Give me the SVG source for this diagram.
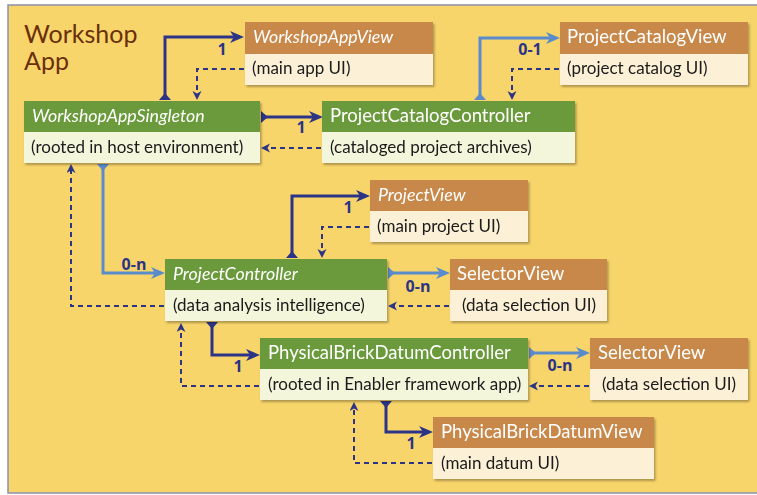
<svg xmlns="http://www.w3.org/2000/svg" width="757" height="495" viewBox="0 0 757 495">
<style>
.title{font-family:Lato,"Gill Sans","Liberation Sans",sans-serif;font-size:25px;fill:#6A2F0C}
.hd{font-family:Lato,"Liberation Sans",sans-serif;font-size:18.5px;fill:#ffffff}
.it{font-style:italic;font-size:17.8px}
.bd{font-family:Lato,"Liberation Sans",sans-serif;font-size:17px;fill:#1a1a1a}
.gh{fill:#6A9A3A}
.gb{fill:#F3F6DB}
.oh{fill:#C8884A}
.ob{fill:#FCF0D6}
.lbl{font-family:"Open Sans","Liberation Sans",sans-serif;font-size:16px;font-weight:bold;fill:#2C3486;text-anchor:middle}
.dk{fill:none;stroke:#2C3486;stroke-width:3}
.lb{fill:none;stroke:#5A8CCB;stroke-width:3}
.ds{fill:none;stroke:#2C3486;stroke-width:2;stroke-dasharray:5 4}
</style>
<defs>
<filter id="sh" x="-5%" y="-10%" width="110%" height="130%">
<feDropShadow dx="1.5" dy="2" stdDeviation="1.2" flood-color="#000" flood-opacity="0.3"/>
</filter>
<marker id="aD" markerUnits="userSpaceOnUse" markerWidth="16" markerHeight="12" refX="10" refY="6" orient="auto">
<path d="M0,0 L14,6 L0,12 L4,6 Z" fill="#2C3486"/>
</marker>
<marker id="aL" markerUnits="userSpaceOnUse" markerWidth="16" markerHeight="12" refX="10" refY="6" orient="auto">
<path d="M0,0 L14,6 L0,12 L4,6 Z" fill="#5A8CCB"/>
</marker>
<marker id="fD" markerUnits="userSpaceOnUse" markerWidth="10" markerHeight="14" refX="0" refY="7" orient="auto">
<path d="M0,1 L7,7 L0,13 Z" fill="#2C3486"/>
</marker>
<marker id="fL" markerUnits="userSpaceOnUse" markerWidth="10" markerHeight="14" refX="0" refY="7" orient="auto">
<path d="M0,1 L7,7 L0,13 Z" fill="#5A8CCB"/>
</marker>
<marker id="aS" markerUnits="userSpaceOnUse" markerWidth="10" markerHeight="10" refX="6" refY="4.5" orient="auto">
<path d="M0,0 L9,4.5 L0,9 L2.5,4.5 Z" fill="#2C3486"/>
</marker>
</defs>

<rect x="8" y="5" width="760" height="488" fill="#F8D56A" stroke="#8C90AC" stroke-width="1.5"/>
<g id="title">
<text class="title" x="24" y="43">Workshop</text>
<text class="title" x="24" y="70">App</text>
</g>

<g id="connectors">
<path class="dk" d="M165,100 V37 H240" marker-start="url(#fD)" marker-end="url(#aD)"/>
<path class="ds" d="M244,69 H197 V97" marker-end="url(#aS)"/>
<path class="dk" d="M261,117 H319" marker-start="url(#fD)" marker-end="url(#aD)"/>
<path class="ds" d="M321,148 H264" marker-end="url(#aS)"/>
<path class="lb" d="M480,100 V38 H556" marker-start="url(#fL)" marker-end="url(#aL)"/>
<path class="ds" d="M559,69 H512 V97" marker-end="url(#aS)"/>
<path class="lb" d="M103,164 V273 H161" marker-start="url(#fL)" marker-end="url(#aL)"/>
<path class="ds" d="M164,306 H71 V167" marker-end="url(#aS)"/>
<path class="dk" d="M292,258 V196 H366" marker-start="url(#fD)" marker-end="url(#aD)"/>
<path class="ds" d="M369,227 H322 V255" marker-end="url(#aS)"/>
<path class="lb" d="M388,273 H446" marker-start="url(#fL)" marker-end="url(#aL)"/>
<path class="ds" d="M449,306 H391" marker-end="url(#aS)"/>
<path class="dk" d="M212,322 V355 H256" marker-start="url(#fD)" marker-end="url(#aD)"/>
<path class="ds" d="M259,386 H181 V326" marker-end="url(#aS)"/>
<path class="lb" d="M529,353 H586" marker-start="url(#fL)" marker-end="url(#aL)"/>
<path class="ds" d="M589,386 H532" marker-end="url(#aS)"/>
<path class="dk" d="M386,401 V432 H429" marker-start="url(#fD)" marker-end="url(#aD)"/>
<path class="ds" d="M432,463 H354 V405" marker-end="url(#aS)"/>
<text class="lbl" x="222" y="55">1</text>
<text class="lbl" x="301" y="133">1</text>
<text class="lbl" x="530" y="55">0-1</text>
<text class="lbl" x="134" y="270">0-n</text>
<text class="lbl" x="348" y="213">1</text>
<text class="lbl" x="418" y="292">0-n</text>
<text class="lbl" x="238" y="372">1</text>
<text class="lbl" x="560" y="371">0-n</text>
<text class="lbl" x="411" y="449">1</text>
</g>

<g id="WorkshopAppView" filter="url(#sh)">
<rect class="oh" x="245" y="22" width="188" height="32"/>
<rect class="ob" x="245" y="54" width="188" height="31"/>
<text class="hd it" x="253" y="43">WorkshopAppView</text>
<text class="bd" x="252" y="74">(main app UI)</text>
</g>

<g id="WorkshopAppSingleton" filter="url(#sh)">
<rect class="gh" x="24" y="101" width="236" height="31"/>
<rect class="gb" x="24" y="132" width="236" height="31"/>
<text class="hd it" x="32" y="122">WorkshopAppSingleton</text>
<text class="bd" x="31" y="153">(rooted in host environment)</text>
</g>

<g id="ProjectCatalogController" filter="url(#sh)">
<rect class="gh" x="322" y="101" width="253" height="31"/>
<rect class="gb" x="322" y="132" width="253" height="31"/>
<text class="hd" x="330" y="122">ProjectCatalogController</text>
<text class="bd" x="330" y="153">(cataloged project archives)</text>
</g>

<g id="ProjectCatalogView" filter="url(#sh)">
<rect class="oh" x="560" y="22" width="188" height="32"/>
<rect class="ob" x="560" y="54" width="188" height="31"/>
<text class="hd" x="567" y="43">ProjectCatalogView</text>
<text class="bd" x="567" y="74">(project catalog UI)</text>
</g>

<g id="ProjectView" filter="url(#sh)">
<rect class="oh" x="370" y="180" width="158" height="31"/>
<rect class="ob" x="370" y="211" width="158" height="31"/>
<text class="hd it" x="378" y="201">ProjectView</text>
<text class="bd" x="377" y="232">(main project UI)</text>
</g>

<g id="ProjectController" filter="url(#sh)">
<rect class="gh" x="165" y="259" width="222" height="31"/>
<rect class="gb" x="165" y="290" width="222" height="31"/>
<text class="hd it" x="173" y="280">ProjectController</text>
<text class="bd" x="173" y="311">(data analysis intelligence)</text>
</g>

<g id="SelectorView1" filter="url(#sh)">
<rect class="oh" x="450" y="259" width="157" height="31"/>
<rect class="ob" x="450" y="290" width="157" height="31"/>
<text class="hd" x="457" y="280">SelectorView</text>
<text class="bd" x="462" y="311">(data selection UI)</text>
</g>

<g id="PhysicalBrickDatumController" filter="url(#sh)">
<rect class="gh" x="260" y="338" width="268" height="31"/>
<rect class="gb" x="260" y="369" width="268" height="31"/>
<text class="hd" x="268" y="359">PhysicalBrickDatumController</text>
<text class="bd" x="268" y="390">(rooted in Enabler framework app)</text>
</g>

<g id="SelectorView2" filter="url(#sh)">
<rect class="oh" x="590" y="338" width="158" height="31"/>
<rect class="ob" x="590" y="369" width="158" height="31"/>
<text class="hd" x="598" y="359">SelectorView</text>
<text class="bd" x="602" y="390">(data selection UI)</text>
</g>

<g id="PhysicalBrickDatumView" filter="url(#sh)">
<rect class="oh" x="433" y="417" width="221" height="31"/>
<rect class="ob" x="433" y="448" width="221" height="31"/>
<text class="hd" x="441" y="438">PhysicalBrickDatumView</text>
<text class="bd" x="441" y="469">(main datum UI)</text>
</g>
</svg>
